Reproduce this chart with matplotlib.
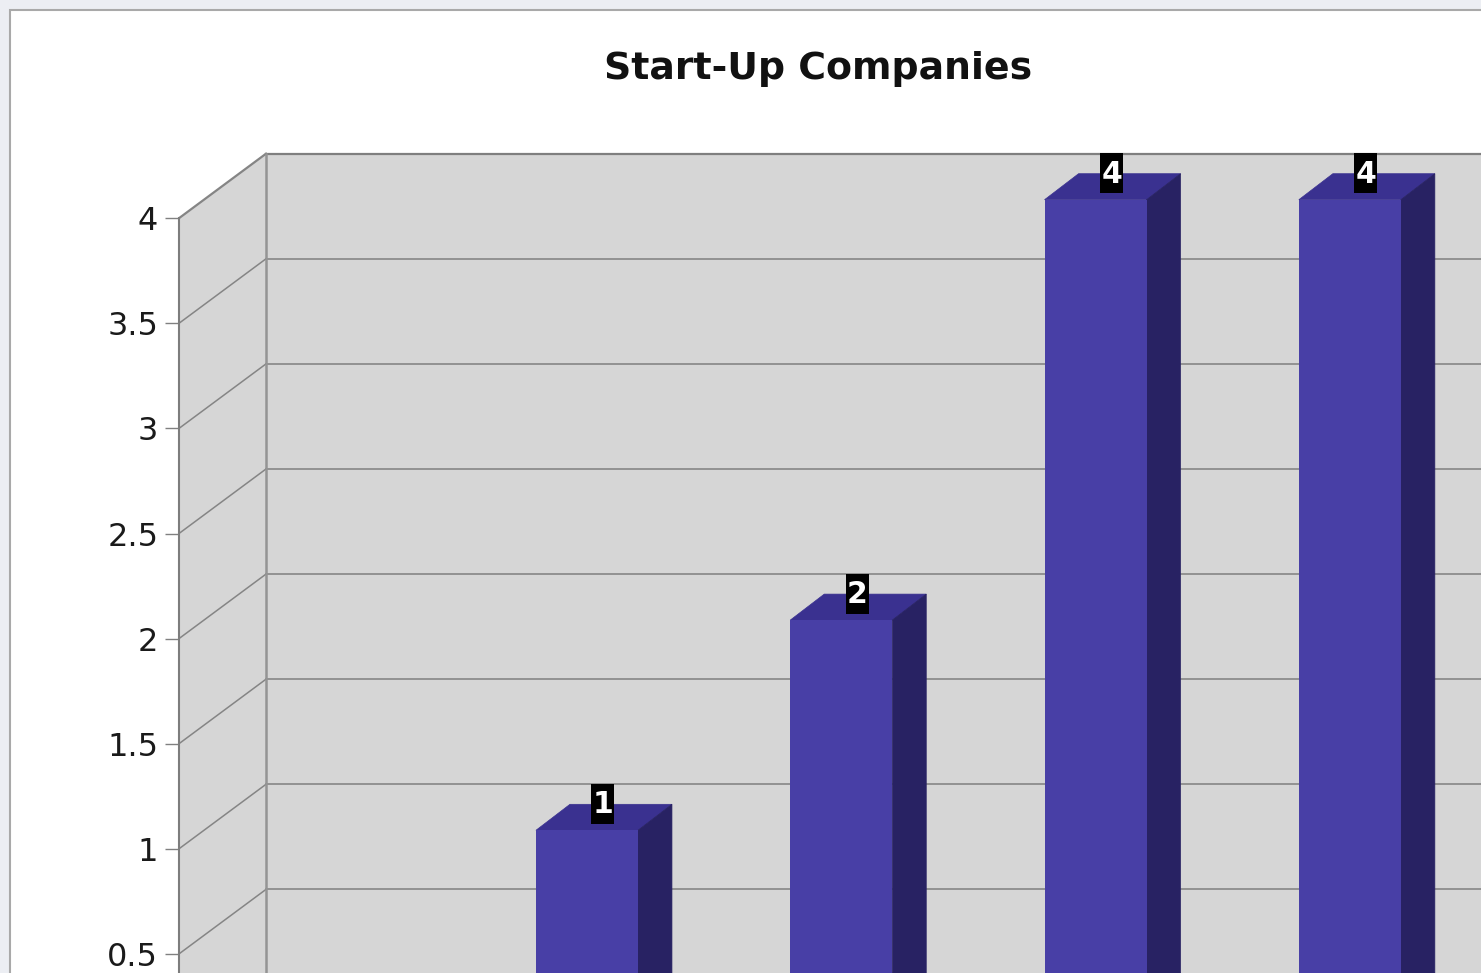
#!/usr/bin/env python
"""Start-Up Companies: pseudo 3D column chart, cropped at the right and bottom"""
import matplotlib
matplotlib.use("Agg")
import matplotlib.pyplot as plt
from matplotlib.patches import Polygon, Rectangle

title = "Start-Up Companies"
grid_values = [0.5, 1, 1.5, 2, 2.5, 3, 3.5, 4]
tick_labels = ["0.5", "1", "1.5", "2", "2.5", "3", "3.5", "4"]
bar_slots = [1, 2, 3, 4]
bar_values = [1, 2, 4, 4]
bar_labels = ["1", "2", "4", "4"]

# Pixel scale of the picture
W, H = 1481, 973
axis_px, zero_px = 179, 1059
slot_px, unit_px = 254.3, 210.2

# Depth offsets, converted to data units
wall_dx, wall_dy = 87 / slot_px, 64.5 / unit_px
front_dx, front_dy = 26.5 / slot_px, 18.5 / unit_px
depth_dx, depth_dy = 34 / slot_px, 26 / unit_px
bar_w = 102 / slot_px
box_w, box_h = 23 / slot_px, 40 / unit_px

fig = plt.figure(figsize=(W / 100, H / 100), dpi=100, facecolor="#eceef3")
plt.rcParams["font.family"] = ["DejaVu Sans"]

# White panel behind the chart
fig.add_artist(Rectangle((9.5 / W, -0.1), 1.1, 1.1 - 9.5 / H, transform=fig.transFigure,
                         facecolor="white", edgecolor="#a9a9a9", linewidth=1.5, zorder=-1))

ax = fig.add_axes([axis_px / W, 0, (W - axis_px) / W, 1])
ax.patch.set_visible(False)
xmax = (W - axis_px) / slot_px
ylo, yhi = (zero_px - H) / unit_px, zero_px / unit_px
ax.set_xlim(0, xmax)
ax.set_ylim(ylo, yhi)
for s in ax.spines.values():
    s.set_visible(False)

# --- Walls ---
wall = "#d6d6d6"
top = 4
ax.add_patch(Polygon([(0, 0), (wall_dx, wall_dy), (wall_dx, top + wall_dy), (0, top)],
                     facecolor=wall, edgecolor="none", zorder=1))
ax.add_patch(Rectangle((wall_dx, wall_dy), xmax, top, facecolor=wall, edgecolor="none", zorder=1))

for v in grid_values:
    lw = 1.6 if v == top else 1.1
    ax.plot([0, wall_dx], [v, v + wall_dy], color="#858585", lw=lw, zorder=2)
    ax.plot([wall_dx, xmax], [v + wall_dy, v + wall_dy], color="#7f7f7f", lw=lw, zorder=2)
ax.plot([0, 0], [ylo, top], color="#7d7d7d", lw=1.5, zorder=3, clip_on=False)
ax.plot([wall_dx, wall_dx], [ylo, top + wall_dy], color="#949494", lw=1.8, zorder=3)

# --- Bars ---
for slot, val, lab in zip(bar_slots, bar_values, bar_labels):
    x0 = slot + 0.5 + front_dx - bar_w / 2
    x1 = x0 + bar_w
    y1 = val + front_dy
    ax.bar(x0, y1 - ylo, width=bar_w, bottom=ylo, align="edge", color="#483fa6", zorder=4.2)
    ax.add_patch(Polygon([(x0, y1), (x1, y1), (x1 + depth_dx, y1 + depth_dy), (x0 + depth_dx, y1 + depth_dy)],
                         facecolor="#3a3190", edgecolor="#3a3190", lw=0.5, zorder=4))
    ax.add_patch(Polygon([(x1, ylo), (x1 + depth_dx, ylo), (x1 + depth_dx, y1 + depth_dy), (x1, y1)],
                         facecolor="#282263", edgecolor="#282263", lw=0.5, zorder=4.1))

    # Black value flag
    cx = x0 + 67 / slot_px
    cy = val + 45 / unit_px
    ax.add_patch(Rectangle((cx - box_w / 2, cy - box_h / 2), box_w, box_h,
                           facecolor="black", edgecolor="none", zorder=5))
    ax.text(cx, cy - 1 / unit_px, lab, color="white", fontsize=21.5, fontweight="bold",
            ha="center", va="center", zorder=6)

# --- Axis ---
ax.set_xticks([])
ax.set_yticks(grid_values, tick_labels)
ax.tick_params(axis="y", length=10, width=1, color="#808080", pad=5,
               labelsize=23, labelcolor="#1a1a1a")

fig.text(818 / W, 1 - 69 / H, title, fontsize=27.3, fontweight="bold", color="#111111",
         ha="center", va="center")

fig.savefig("out.png", dpi=100, facecolor=fig.get_facecolor())
